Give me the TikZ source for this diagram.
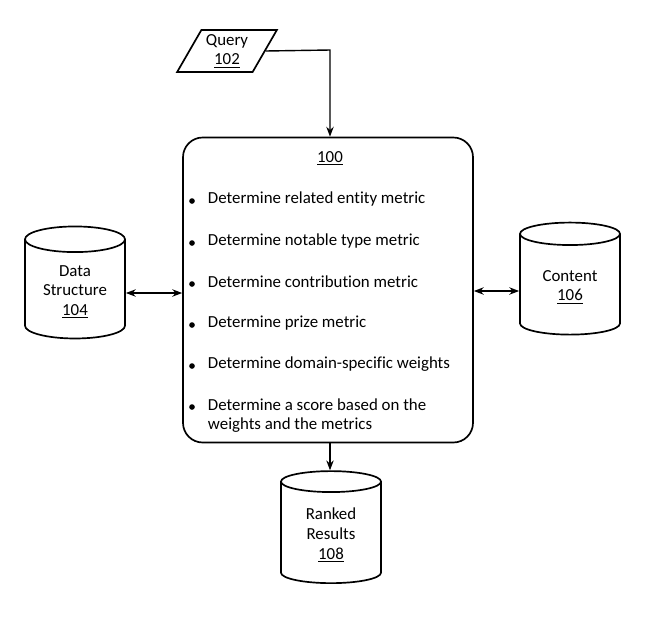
\documentclass[tikz,border=0pt]{standalone}
\usepackage{fontspec}
\setmainfont{Carlito}[Ligatures=NoCommon]
\usetikzlibrary{shapes.geometric,positioning,arrows.meta}

\tikzset{
  store/.style={cylinder,shape border rotate=90,draw,line width=1.2pt,aspect=0.35,
    minimum width=2.5cm,minimum height=2.8cm,align=center,font=\large},
  link/.style={line width=1pt,-{Stealth[length=7pt]}},
  dlink/.style={line width=1pt,{Stealth[length=7pt]}-{Stealth[length=7pt]}},
  item/.style={anchor=west,font=\large}
}

\begin{document}
\begin{tikzpicture}[x=0.025cm,y=-0.025cm]
   \useasboundingbox (0,0) rectangle (650,620);
   % main process box
   \node[draw,line width=1.2pt,rounded corners=14pt,minimum width=290*0.025cm,
     minimum height=305*0.025cm] (proc) at (328,290) {};
   \node[font=\large] (num) at (330,158) {\underline{100}};
   \foreach \y/\t [count=\i] in {199/Determine related entity metric,
       241/Determine notable type metric,282/Determine contribution metric,
       323/Determine prize metric,364/Determine domain-specific weights,
       405/Determine a score based on the}{
     \node[item] (it\i) at (203,\y) {\t};
     \fill (192,\y+2) circle (2pt);
   }
   \node[item] (it7) at (203,425) {weights and the metrics};
   % query input
   \node[trapezium,trapezium left angle=60,trapezium right angle=120,draw,
     line width=1.2pt,align=center,font=\large,minimum width=2.1cm,
     minimum height=1.05cm,inner sep=2pt] (query) at (227,51)
     {Query\\\underline{102}};
   \coordinate (bend) at (330,50);
   % stores
   \node[store] (data) at (75,292) {Data\\Structure\\\underline{104}};
   \node[store] (cont) at (570,287) {Content\\\underline{106}};
   \node[store] (rank) at (331,535) {Ranked\\Results\\\underline{108}};
   \draw[link] (query.east) -- (bend) -- (proc.north -| bend);
   \draw[dlink] (data.east |- 0,293) -- (proc.west |- 0,293);
   \draw[dlink] (proc.east |- 0,291) -- (cont.west |- 0,291);
   \draw[link] (proc.south -| 330,0) -- (rank.north -| 330,0);
\end{tikzpicture}
\end{document}
